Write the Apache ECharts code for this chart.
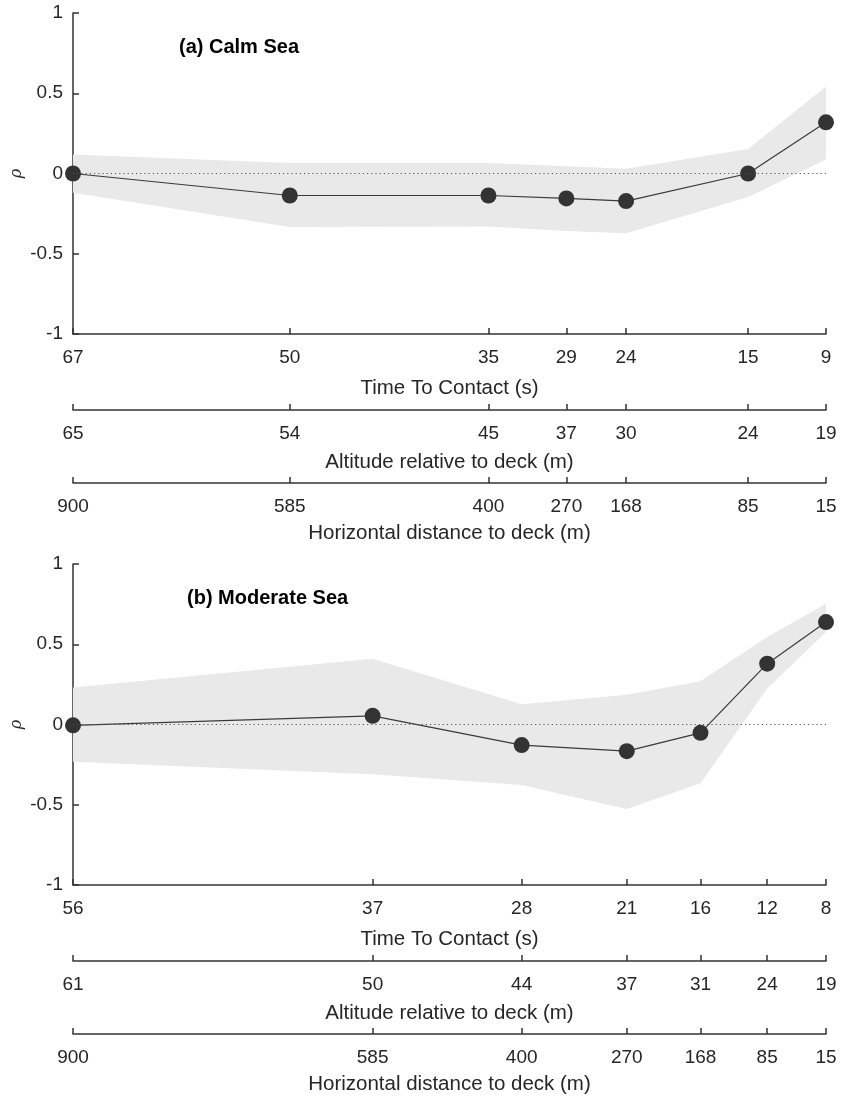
<!DOCTYPE html>
<html><head><meta charset="utf-8">
<script src="https://cdn.jsdelivr.net/npm/echarts@6/dist/echarts.min.js"></script>
<style>html,body{margin:0;padding:0;background:#fff}#c{width:841px;height:1096px}</style>
</head><body><div id="c"></div>
<script>
// ---------- Panel (a) Calm Sea ----------
const ttcA        = [67, 50.3, 35.0, 29.0, 24.4, 15.0, 9];
const ttcLabelsA  = ['67','50','35','29','24','15','9'];
const altLabelsA  = ['65','54','45','37','30','24','19'];
const distLabelsA = ['900','585','400','270','168','85','15'];
const rhoA   = [0.000, -0.137, -0.137, -0.155, -0.172, 0.000, 0.319];
const upperA = [0.118,  0.066,  0.066,  0.045,  0.030, 0.153, 0.542];
const lowerA = [-0.120, -0.333, -0.330, -0.358, -0.373, -0.147, 0.087];

// ---------- Panel (b) Moderate Sea ----------
const ttcB        = [56, 36.9, 27.4, 20.7, 16.0, 11.75, 8];
const ttcLabelsB  = ['56','37','28','21','16','12','8'];
const altLabelsB  = ['61','50','44','37','31','24','19'];
const distLabelsB = ['900','585','400','270','168','85','15'];
const rhoB   = [-0.005, 0.054, -0.128, -0.166, -0.052, 0.379, 0.638];
const upperB = [0.230, 0.410, 0.126, 0.186, 0.270, 0.545, 0.752];
const lowerB = [-0.232, -0.310, -0.377, -0.526, -0.366, 0.224, 0.576];

const titles = ['(a) Calm Sea', '(b) Moderate Sea'];
const axisNames = ['Time To Contact (s)', 'Altitude relative to deck (m)', 'Horizontal distance to deck (m)'];

const FONT = '"Liberation Sans", Arial, Helvetica, sans-serif';
const TXT = '#262626';
const AX = { show: true, onZero: false, lineStyle: { color: '#333', width: 1.5 } };

const chart = echarts.init(document.getElementById('c'));

function makeXAxes(gridIndex, pos, labelSets) {
  const mn = Math.min(...pos), mx = Math.max(...pos);
  const offsets = [0, 76, 149];
  const gaps = [44, 42, 40];
  return labelSets.map((labels, k) => ({
    type: 'value', gridIndex, position: 'bottom', offset: offsets[k],
    min: mn, max: mx, inverse: true,
    name: axisNames[k], nameLocation: 'middle', nameGap: gaps[k],
    nameTextStyle: { fontFamily: FONT, fontSize: 20.5, color: TXT },
    axisLine: AX,
    axisTick: { show: true, inside: true, length: 6, customValues: pos, lineStyle: { color: '#333', width: 1.5 } },
    axisLabel: {
      show: true, customValues: pos, margin: 14, hideOverlap: false,
      fontFamily: FONT, fontSize: 19, color: TXT,
      formatter: v => { const i = pos.findIndex(p => Math.abs(p - v) < 1e-6); return i >= 0 ? labels[i] : ''; }
    },
    splitLine: { show: false }
  }));
}

function makeYAxis(gridIndex) {
  return {
    type: 'value', gridIndex, min: -1, max: 1, interval: 0.5,
    name: 'ρ', nameLocation: 'middle', nameGap: 48, nameRotate: 90, nameMoveOverlap: false,
    nameTextStyle: { fontFamily: 'DejaVu Serif', fontStyle: 'italic', fontSize: 16, color: TXT },
    axisLine: AX,
    axisTick: { show: true, inside: true, length: 6, lineStyle: { color: '#333', width: 1.5 } },
    axisLabel: { fontFamily: FONT, fontSize: 19, color: TXT, margin: 10 },
    splitLine: { show: false }
  };
}

function bandSeries(xi, yi, pos, lo, up) {
  return {
    type: 'custom', xAxisIndex: xi, yAxisIndex: yi, silent: true, z: 1, clip: false,
    data: pos.map((t, i) => [t, lo[i], up[i]]),
    encode: { x: 0, y: [1, 2] },
    renderItem: (params, api) => {
      if (params.dataIndex !== 0) return null;
      const pts = [];
      for (let i = 0; i < pos.length; i++) pts.push(api.coord([pos[i], up[i]]));
      for (let i = pos.length - 1; i >= 0; i--) pts.push(api.coord([pos[i], lo[i]]));
      return { type: 'polygon', shape: { points: pts }, style: { fill: '#e9e9e9', stroke: null } };
    }
  };
}

function mainSeries(xi, yi, pos, rho) {
  return {
    type: 'line', xAxisIndex: xi, yAxisIndex: yi, z: 3, clip: false,
    data: pos.map((t, i) => [t, rho[i]]),
    symbol: 'circle', symbolSize: 16,
    itemStyle: { color: '#333' },
    lineStyle: { color: '#3a3a3a', width: 1.2 },
    markLine: {
      silent: true, symbol: ['none', 'none'], label: { show: false },
      lineStyle: { color: '#555', width: 1, type: [1.2, 3] },
      data: [{ yAxis: 0 }]
    }
  };
}

const option = {
  animation: false,
  backgroundColor: '#fff',
  title: [
    { text: titles[0], left: 179, top: 37, padding: 0, textStyle: { fontFamily: FONT, fontSize: 20, fontWeight: 'bold', color: '#000' } },
    { text: titles[1], left: 187, top: 588, padding: 0, textStyle: { fontFamily: FONT, fontSize: 20, fontWeight: 'bold', color: '#000' } }
  ],
  grid: [
    { left: 73, right: 15, top: 13, height: 321, containLabel: false, outerBoundsMode: 'none' },
    { left: 73, right: 15, top: 564, height: 321, containLabel: false, outerBoundsMode: 'none' }
  ],
  xAxis: [
    ...makeXAxes(0, ttcA, [ttcLabelsA, altLabelsA, distLabelsA]),
    ...makeXAxes(1, ttcB, [ttcLabelsB, altLabelsB, distLabelsB])
  ],
  yAxis: [makeYAxis(0), makeYAxis(1)],
  series: [
    bandSeries(0, 0, ttcA, lowerA, upperA),
    mainSeries(0, 0, ttcA, rhoA),
    bandSeries(3, 1, ttcB, lowerB, upperB),
    mainSeries(3, 1, ttcB, rhoB)
  ]
};
chart.setOption(option);
</script>
</body></html>
